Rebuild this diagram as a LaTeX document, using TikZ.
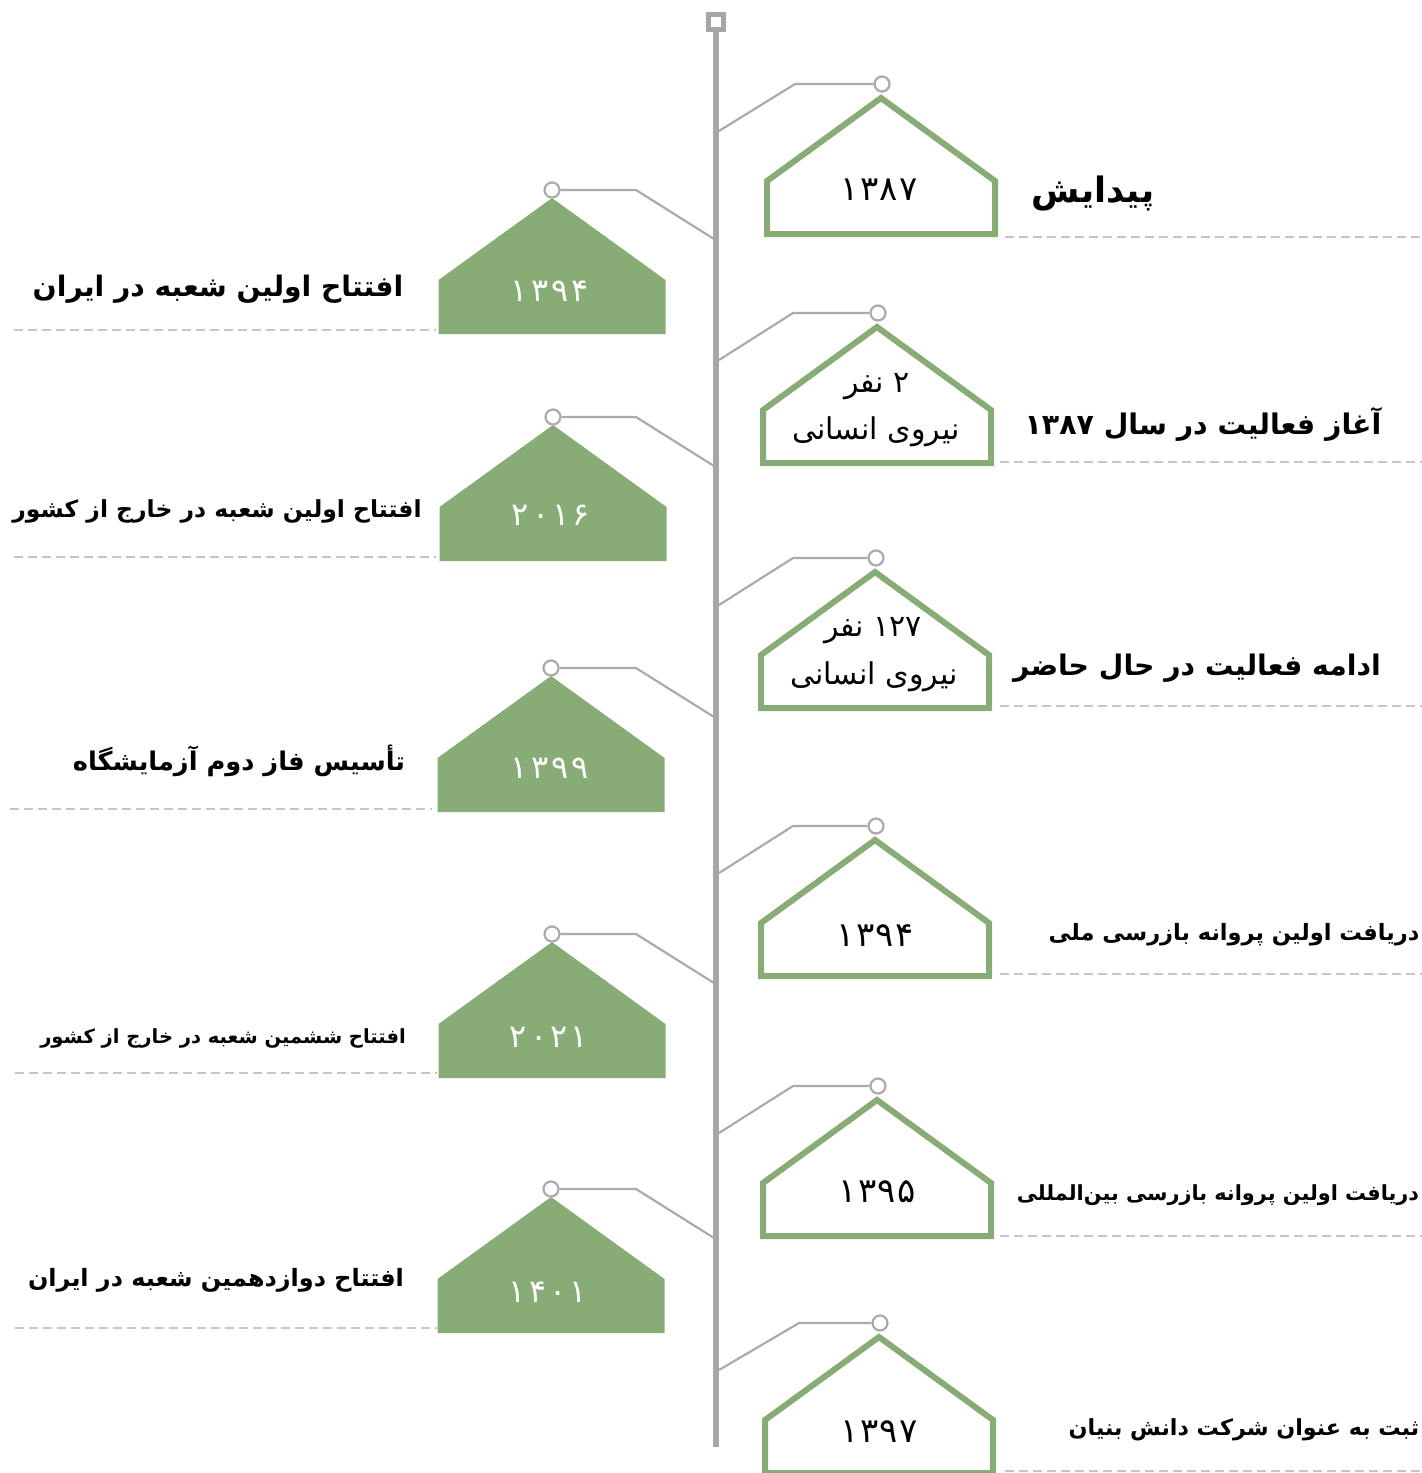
\documentclass[tikz,border=0pt]{standalone}
\usepackage{fontspec}
\newfontfamily\fa[Script=Arabic]{DejaVu Sans}
\TeXXeTstate=1
\definecolor{hgreen}{HTML}{88AC76}
\definecolor{tgray}{HTML}{A6A6A6}
\definecolor{cgray}{HTML}{ABABAB}
\definecolor{dgray}{HTML}{C6C6C6}
\newcommand\fs[1]{\fontsize{#1}{#1}\selectfont}
\newcommand\yr[5]{\beginL#1\kern#5#2\kern#5#3\kern#5#4\endL}
\tikzset{
  timeline/.style={draw=tgray,line width=6pt},
  topsq/.style={draw=tgray,fill=white,line width=5pt,minimum size=15pt,inner sep=0pt,rectangle},
  conn/.style={draw=cgray,line width=2.2pt},
  dotc/.style={circle,draw=cgray,fill=white,line width=2.2pt,minimum size=15pt,inner sep=0pt},
  outhouse/.style={draw=hgreen,line width=6pt,fill=white,line join=miter},
  fillhouse/.style={fill=hgreen},
  guide/.style={draw=dgray,line width=1.6pt,dash pattern=on 9pt off 5pt},
  title/.style={font=\fa\bfseries,inner sep=0pt,text=black},
  yrtext/.style={font=\fa,inner sep=0pt},
}
\newcommand\rhouse[4]{% name, apex x, apex y, bend x
  \path[outhouse] (#2,#3) -- ({#2+114},{#3+83}) -- ({#2+114},{#3+136}) -- ({#2-114},{#3+136}) -- ({#2-114},{#3+83}) -- cycle;
  \coordinate (#1-j) at (719,{#3+33});
  \coordinate (#1-b) at (#4,{#3-14});
  \node[dotc] (#1) at ({#2+1},{#3-14}) {};
  \draw[conn] (#1-j) -- (#1-b) -- (#1.west);
}
\newcommand\lhouse[3]{% name, apex x, apex y
  \path[fillhouse] (#2,#3) -- ({#2+113.5},{#3+82}) -- ({#2+113.5},{#3+136}) -- ({#2-113.5},{#3+136}) -- ({#2-113.5},{#3+82}) -- cycle;
  \coordinate (#1-j) at (714,{#3+41});
  \coordinate (#1-b) at (636,{#3-8});
  \node[dotc] (#1) at (#2,{#3-8}) {};
  \draw[conn] (#1-j) -- (#1-b) -- (#1.east);
}
\begin{document}
\begin{tikzpicture}[x=1pt,y=-1pt]
\useasboundingbox (0,0) rectangle (1422,1473);
% timeline
\coordinate (ttop) at (716,24);
\coordinate (tbot) at (716,1447);
\draw[timeline] (ttop) -- (tbot);
\node[topsq] (sq) at (716,22) {};

% right side
\rhouse{r1}{881}{98}{795}
\rhouse{r2}{877}{327}{793}
\rhouse{r3}{875}{572}{793}
\rhouse{r4}{875}{840}{793}
\rhouse{r5}{877}{1100}{793}
\rhouse{r6}{879}{1337}{799}

% left side
\lhouse{l1}{552}{198}
\lhouse{l2}{553}{425}
\lhouse{l3}{551}{676}
\lhouse{l4}{552}{942}
\lhouse{l5}{551}{1197}

% guide lines
\coordinate (g1a) at (1005,237); \coordinate (g1b) at (1422,237); \draw[guide] (g1a) -- (g1b);
\coordinate (g2a) at (1000,462); \coordinate (g2b) at (1422,462); \draw[guide] (g2a) -- (g2b);
\coordinate (g3a) at (1000,706); \coordinate (g3b) at (1422,706); \draw[guide] (g3a) -- (g3b);
\coordinate (g4a) at (1000,974); \coordinate (g4b) at (1422,974); \draw[guide] (g4a) -- (g4b);
\coordinate (g5a) at (1000,1236); \coordinate (g5b) at (1422,1236); \draw[guide] (g5a) -- (g5b);
\coordinate (g6a) at (1005,1471); \coordinate (g6b) at (1422,1471); \draw[guide] (g6a) -- (g6b);
\coordinate (h1a) at (14,330); \coordinate (h1b) at (436,330); \draw[guide] (h1a) -- (h1b);
\coordinate (h2a) at (14,557); \coordinate (h2b) at (436,557); \draw[guide] (h2a) -- (h2b);
\coordinate (h3a) at (10,809); \coordinate (h3b) at (432,809); \draw[guide] (h3a) -- (h3b);
\coordinate (h4a) at (15,1073); \coordinate (h4b) at (437,1073); \draw[guide] (h4a) -- (h4b);
\coordinate (h5a) at (15,1328); \coordinate (h5b) at (437,1328); \draw[guide] (h5a) -- (h5b);

% years in right houses
\node[yrtext] (y1) at (879,190) {\fs{34}\yr{۱}{۳}{۸}{۷}{.04em}};
\node[yrtext] (y2a) at (877,387) {\fs{30}\beginR ۲ نفر\endR};
\node[yrtext] (y2b) at (876,432) {\fs{30}\beginR نیروی انسانی\endR};
\node[yrtext] (y3a) at (873,631) {\fs{30}\beginR\beginL ۱۲۷\endL{} نفر\endR};
\node[yrtext] (y3b) at (874,677) {\fs{30}\beginR نیروی انسانی\endR};
\node[yrtext] (y4) at (875,936) {\fs{34}\yr{۱}{۳}{۹}{۴}{.04em}};
\node[yrtext] (y5) at (877,1192) {\fs{34}\yr{۱}{۳}{۹}{۵}{.04em}};
\node[yrtext] (y6) at (879,1432) {\fs{34}\yr{۱}{۳}{۹}{۷}{.04em}};

% years in left houses
\node[yrtext,text=white] (z1) at (550,291) {\fs{32}\yr{۱}{۳}{۹}{۴}{.1em}};
\node[yrtext,text=white] (z2) at (551,515) {\fs{32}\yr{۲}{۰}{۱}{۶}{.1em}};
\node[yrtext,text=white] (z3) at (550,768) {\fs{32}\yr{۱}{۳}{۹}{۹}{.1em}};
\node[yrtext,text=white] (z4) at (549,1037) {\fs{32}\yr{۲}{۰}{۲}{۱}{.1em}};
\node[yrtext,text=white] (z5) at (548,1292) {\fs{32}\yr{۱}{۴}{۰}{۱}{.1em}};

% right titles
\node[title] (t1) at (1093,193) {\fs{35}\beginR پیدایش\endR};
\node[title] (t2) at (1203,424) {\fs{28.4}\beginR آغاز فعالیت در سال \beginL۱۳۸۷\endL\endR};
\node[title] (t3) at (1197,668) {\fs{28.3}\beginR ادامه فعالیت در حال حاضر\endR};
\node[title] (t4) at (1234,935) {\fs{22.5}\beginR دریافت اولین پروانه بازرسی ملی\endR};
\node[title] (t5) at (1218,1195) {\fs{20.8}\beginR دریافت اولین پروانه بازرسی بین‌المللی\endR};
\node[title] (t6) at (1244,1430) {\fs{22.2}\beginR ثبت به عنوان شرکت دانش بنیان\endR};

% left titles
\node[title] (s1) at (218,289) {\fs{28.2}\beginR افتتاح اولین شعبه در ایران\endR};
\node[title] (s2) at (217,511) {\fs{23.5}\beginR افتتاح اولین شعبه در خارج از کشور\endR};
\node[title] (s3) at (239,761) {\fs{25.7}\beginR تأسیس فاز دوم آزمایشگاه\endR};
\node[title] (s4) at (223,1038) {\fs{19.5}\beginR افتتاح ششمین شعبه در خارج از کشور\endR};
\node[title] (s5) at (216,1280) {\fs{23.9}\beginR افتتاح دوازدهمین شعبه در ایران\endR};
\end{tikzpicture}
\end{document}
